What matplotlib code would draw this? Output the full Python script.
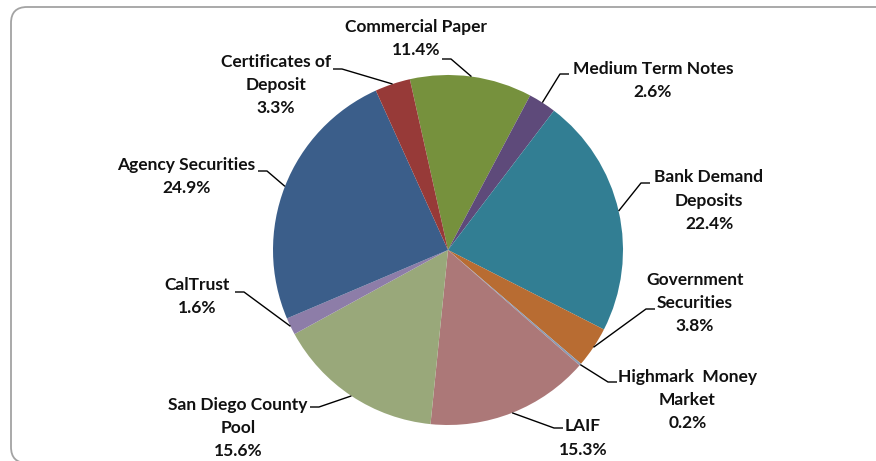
import numpy as np
import matplotlib
matplotlib.use('Agg')
import matplotlib.pyplot as plt
from matplotlib.patches import FancyBboxPatch

# Portfolio holdings, clockwise from the top
categorias = ['Commercial Paper', 'Medium Term Notes', 'Bank Demand Deposits',
              'Government Securities', 'Highmark Money Market', 'LAIF',
              'San Diego County Pool', 'CalTrust', 'Agency Securities',
              'Certificates of Deposit']
porcentajes = [11.4, 2.6, 22.4, 3.8, 0.2, 15.3, 15.6, 1.6, 24.9, 3.3]
etiquetas = ['Commercial Paper', 'Medium Term Notes', 'Bank Demand\nDeposits',
             'Government\nSecurities', 'Highmark  Money\nMarket', 'LAIF',
             'San Diego County\nPool', 'CalTrust', 'Agency Securities',
             'Certificates of\nDeposit']
colores = ['#76913D', '#5E4A7A', '#327E93', '#B86C32', '#8A9BB4', '#AC7878',
           '#99A87A', '#8D7DA8', '#3B5E8A', '#973A38']

W, H = 876, 461

fig = plt.figure(figsize=(W / 100, H / 100), dpi=100)
ax = fig.add_axes([0, 0, 1, 1])

# Marco redondeado del grafico
marco = FancyBboxPatch((11, -2), 900, H - 7 + 2,
                       boxstyle='round,pad=0,rounding_size=16',
                       facecolor='white', edgecolor='#A3A3A3', linewidth=1.3,
                       clip_on=False, zorder=0)
ax.add_patch(marco)

centro = (448, H - 250)
radio = 175
wedges, _ = ax.pie(porcentajes, colors=colores, startangle=102.6,
                   counterclock=False, radius=radio, center=centro,
                   frame=True, wedgeprops=dict(linewidth=0))
ax.set_xlim(0, W)
ax.set_ylim(0, H)
ax.set_aspect('equal')
ax.axis('off')

# Posicion de cada etiqueta (centro del texto) y del punto donde empieza la guia
pos_texto = [(416, 38.5), (653, 80.5), (709, 200.5), (695, 303), (687.5, 400),
             (583, 438), (238, 428), (197.5, 296.5), (186.5, 176.5), (276, 85)]
pos_guia = [(442, 59), (569, 74), (650, 183), (655, 309), (617, 382),
            (563, 428), (310, 407), (235, 292), (258, 171), (333, 69)]

fuente = dict(family=['Lato', 'DejaVu Sans'], fontsize=12.5, fontweight='bold',
              color='#111111')

for w, etiqueta, pct, (tx, ty), (gx, gy) in zip(wedges, etiquetas, porcentajes,
                                                 pos_texto, pos_guia):
    ax.text(tx, H - ty, f'{etiqueta}\n{pct:.1f}%', ha='center', va='center',
            linespacing=1.55, **fuente)
    ang = np.deg2rad((w.theta1 + w.theta2) / 2)
    ex = centro[0] + radio * np.cos(ang)
    ey = centro[1] + radio * np.sin(ang)
    paso = 9 if ex > gx else -9
    ax.plot([gx, gx + paso, ex], [H - gy, H - gy, ey], color='black',
            linewidth=1.0, solid_capstyle='butt')

fig.savefig('out.png', dpi=100)
plt.close(fig)
